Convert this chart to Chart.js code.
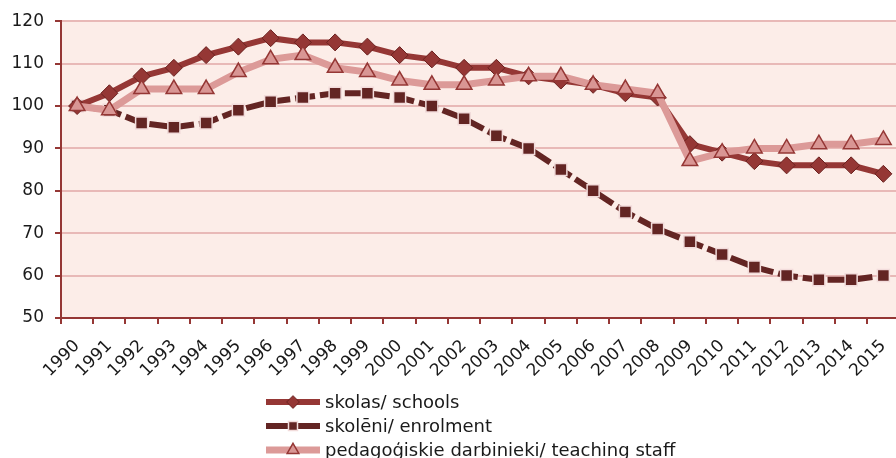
<!DOCTYPE html>
<html lang="lv">
<head>
<meta charset="UTF-8">
<title>Skolas, skolēni, pedagoģiskie darbinieki</title>
<style>
  body {
    margin: 0;
    padding: 0;
    background: #fff;
    overflow: hidden;
  }
  .wrap {
    position: relative;
    width: 910px;
    height: 458px;
  }
</style>
<script src="https://cdn.jsdelivr.net/npm/chart.js"></script>
</head>
<body>
<div class="wrap"><canvas id="chart"></canvas></div>

<script>
// data (1990 = 100)
const years = ['1990','1991','1992','1993','1994','1995','1996','1997','1998','1999','2000','2001','2002',
  '2003','2004','2005','2006','2007','2008','2009','2010','2011','2012','2013','2014','2015'];
const schools = [100, 103, 107, 109, 112, 114, 116, 115, 115, 114, 112, 111, 109,
  109, 107, 106, 105, 103, 102, 91, 89, 87, 86, 86, 86, 84];
const enrolment = [100, 99, 96, 95, 96, 99, 101, 102, 103, 103, 102, 100, 97,
  93, 90, 85, 80, 75, 71, 68, 65, 62, 60, 59, 59, 60];
const staff = [100, 99, 104, 104, 104, 108, 111, 112, 109, 108, 106, 105, 105,
  106, 107, 107, 105, 104, 103, 87, 89, 90, 90, 91, 91, 92];
const seriesNames = ['skolas/ schools', 'skolēni/ enrolment', 'pedagoģiskie darbinieki/ teaching staff'];
const yMin = 50, yMax = 120, yStep = 10;

const FONT = '"DejaVu Sans", Verdana, sans-serif';
const AXIS = '#953735';

const datasets = [
  {
    label: seriesNames[0],
    data: schools,
    borderColor: '#953735',
    borderWidth: 6,
    pointStyle: 'rectRot',
    pointRadius: 8.5,
    pointBackgroundColor: '#953735',
    pointBorderColor: '#6b2220',
    pointBorderWidth: 1,
    order: 1
  },
  {
    label: seriesNames[1],
    data: enrolment,
    borderColor: '#632523',
    borderWidth: 6,
    borderDash: [20, 5],
    pointStyle: 'rect',
    pointRadius: 8.5,
    pointBackgroundColor: '#632523',
    pointBorderColor: '#f2dcdb',
    pointBorderWidth: 1.5,
    order: 2
  },
  {
    label: seriesNames[2],
    data: staff,
    borderColor: '#dc9a98',
    borderWidth: 7,
    pointStyle: 'triangle',
    pointRadius: 9,
    pointBackgroundColor: '#d99694',
    pointBorderColor: '#953735',
    pointBorderWidth: 1.5,
    order: 0
  }
];

// plot background
const plotBg = {
  id: 'plotBg',
  beforeDraw(chart) {
    const a = chart.chartArea, ctx = chart.ctx;
    ctx.save();
    ctx.fillStyle = '#fcede8';
    ctx.fillRect(a.left, a.top, a.right - a.left, a.bottom - a.top);
    ctx.restore();
  }
};

// stacked legend below the axis
const stackLegend = {
  id: 'stackLegend',
  afterDraw(chart) {
    const ctx = chart.ctx;
    const x0 = 266, x1 = 320, rowY = [402, 426, 450];
    ctx.save();
    chart.data.datasets.forEach((ds, i) => {
      const y = rowY[i];
      ctx.strokeStyle = ds.borderColor;
      ctx.lineWidth = ds.borderWidth;
      ctx.setLineDash([]);
      ctx.beginPath();
      ctx.moveTo(x0, y);
      ctx.lineTo(x1, y);
      ctx.stroke();
      ctx.fillStyle = ds.pointBackgroundColor;
      ctx.strokeStyle = ds.pointBorderColor;
      ctx.lineWidth = ds.pointBorderWidth;
      Chart.helpers.drawPoint(ctx, {
        pointStyle: ds.pointStyle,
        radius: ds.pointRadius * 0.75,
        rotation: 0,
        borderWidth: ds.pointBorderWidth
      }, (x0 + x1) / 2, y);
      ctx.fillStyle = '#1a1a1a';
      ctx.font = '18px ' + FONT;
      ctx.textBaseline = 'middle';
      ctx.fillText(ds.label, 325, y + 1);
    });
    ctx.restore();
  }
};

new Chart(document.getElementById('chart'), {
  type: 'line',
  data: { labels: years, datasets: datasets },
  options: {
    responsive: true,
    maintainAspectRatio: false,
    animation: false,
    layout: { padding: { top: 19, right: 8, left: 0, bottom: 0 } },
    plugins: {
      legend: { display: false },
      tooltip: { enabled: false }
    },
    scales: {
      x: {
        offset: true,
        afterFit(scale) { scale.height = 140; },
        grid: {
          offset: true,
          drawOnChartArea: false,
          tickLength: 6,
          tickColor: AXIS,
          lineWidth: 2
        },
        border: { color: AXIS, width: 2 },
        ticks: {
          autoSkip: false,
          maxRotation: 45,
          minRotation: 45,
          padding: 12,
          color: '#1a1a1a',
          font: { family: FONT, size: 17 }
        }
      },
      y: {
        min: yMin,
        max: yMax,
        afterFit(scale) { scale.width = 61; },
        grid: {
          color: '#e8b9b7',
          lineWidth: 2,
          tickLength: 6,
          tickColor: AXIS
        },
        border: { color: AXIS, width: 2 },
        ticks: {
          stepSize: yStep,
          padding: 11,
          color: '#1a1a1a',
          font: { family: FONT, size: 17 }
        }
      }
    }
  },
  plugins: [plotBg, stackLegend]
});
</script>
</body>
</html>
